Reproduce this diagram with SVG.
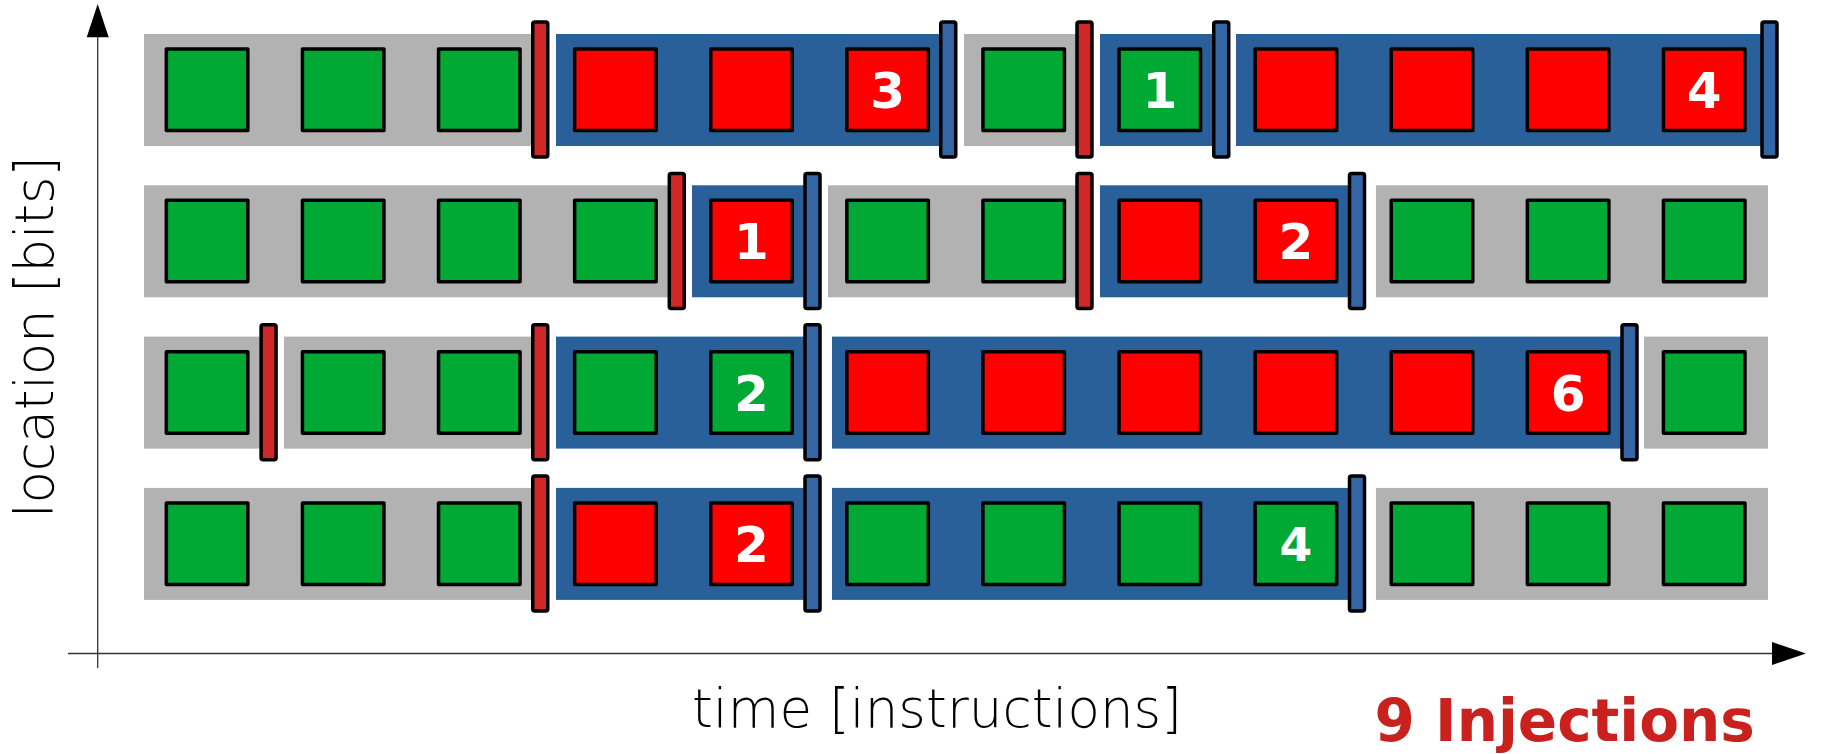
<svg xmlns="http://www.w3.org/2000/svg" width="1823" height="754" viewBox="0 0 1823 754">
<style>
.gray{fill:#b2b2b2}
.blue{fill:#2a6099}
.ok{fill:#00a933;stroke:#000;stroke-width:3.5;stroke-linejoin:round}
.bad{fill:#ff0000;stroke:#000;stroke-width:3.5;stroke-linejoin:round}
.rbar{fill:#d02828;stroke:#000;stroke-width:3.5}
.bbar{fill:#3465a4;stroke:#000;stroke-width:3.5}
.num{font-family:"DejaVu Sans",sans-serif;font-weight:bold;font-size:50px;fill:#fff;text-anchor:middle}
.axis{stroke:#333;stroke-width:1.3;fill:none}
.lbl{font-family:"DejaVu Sans",sans-serif;font-weight:200;font-size:53px;fill:#000}
</style>
<rect width="1823" height="754" fill="#fff"/>
<g id="connectors">
<line class="axis" x1="97.7" y1="36" x2="97.7" y2="668"/>
<polygon points="97.7,4 86.7,37.3 108.7,37.3" fill="#000"/>
<line class="axis" x1="68" y1="653.5" x2="1774" y2="653.5"/>
<polygon points="1806,653.5 1772,642 1772,665" fill="#000"/>
</g>
<g id="row1">
<g id="row1-bands">
<rect class="gray" x="144" y="34" width="396" height="112"/>
<rect class="blue" x="556" y="34" width="392" height="112"/>
<rect class="gray" x="964" y="34" width="120" height="112"/>
<rect class="blue" x="1100" y="34" width="121" height="112"/>
<rect class="blue" x="1236" y="34" width="533" height="112"/>
</g>
<g id="r1s0"><rect class="ok" x="166.35" y="49.05" width="81.5" height="81.5"/></g>
<g id="r1s1"><rect class="ok" x="302.45" y="49.05" width="81.5" height="81.5"/></g>
<g id="r1s2"><rect class="ok" x="438.55" y="49.05" width="81.5" height="81.5"/></g>
<g id="r1s3"><rect class="bad" x="574.65" y="49.05" width="81.5" height="81.5"/></g>
<g id="r1s4"><rect class="bad" x="710.75" y="49.05" width="81.5" height="81.5"/></g>
<g id="r1s5"><rect class="bad" x="846.85" y="49.05" width="81.5" height="81.5"/><text class="num" x="887.6" y="108">3</text></g>
<g id="r1s6"><rect class="ok" x="982.95" y="49.05" width="81.5" height="81.5"/></g>
<g id="r1s7"><rect class="ok" x="1119.05" y="49.05" width="81.5" height="81.5"/><text class="num" x="1159.8" y="108">1</text></g>
<g id="r1s8"><rect class="bad" x="1255.15" y="49.05" width="81.5" height="81.5"/></g>
<g id="r1s9"><rect class="bad" x="1391.25" y="49.05" width="81.5" height="81.5"/></g>
<g id="r1s10"><rect class="bad" x="1527.35" y="49.05" width="81.5" height="81.5"/></g>
<g id="r1s11"><rect class="bad" x="1663.45" y="49.05" width="81.5" height="81.5"/><text class="num" x="1704.2" y="108">4</text></g>
<g id="r1b0"><rect class="rbar" x="532.75" y="22" width="15" height="135" rx="2"/></g>
<g id="r1b1"><rect class="bbar" x="940.75" y="22" width="15" height="135" rx="2"/></g>
<g id="r1b2"><rect class="rbar" x="1077" y="22" width="15" height="135" rx="2"/></g>
<g id="r1b3"><rect class="bbar" x="1213.75" y="22" width="15" height="135" rx="2"/></g>
<g id="r1b4"><rect class="bbar" x="1762" y="22" width="15" height="135" rx="2"/></g>
</g>
<g id="row2">
<g id="row2-bands">
<rect class="gray" x="144" y="185.3" width="532" height="112"/>
<rect class="blue" x="692" y="185.3" width="120" height="112"/>
<rect class="gray" x="828" y="185.3" width="256" height="112"/>
<rect class="blue" x="1100" y="185.3" width="257" height="112"/>
<rect class="gray" x="1376" y="185.3" width="392" height="112"/>
</g>
<g id="r2s0"><rect class="ok" x="166.35" y="200.35" width="81.5" height="81.5"/></g>
<g id="r2s1"><rect class="ok" x="302.45" y="200.35" width="81.5" height="81.5"/></g>
<g id="r2s2"><rect class="ok" x="438.55" y="200.35" width="81.5" height="81.5"/></g>
<g id="r2s3"><rect class="ok" x="574.65" y="200.35" width="81.5" height="81.5"/></g>
<g id="r2s4"><rect class="bad" x="710.75" y="200.35" width="81.5" height="81.5"/><text class="num" x="751.5" y="259.3">1</text></g>
<g id="r2s5"><rect class="ok" x="846.85" y="200.35" width="81.5" height="81.5"/></g>
<g id="r2s6"><rect class="ok" x="982.95" y="200.35" width="81.5" height="81.5"/></g>
<g id="r2s7"><rect class="bad" x="1119.05" y="200.35" width="81.5" height="81.5"/></g>
<g id="r2s8"><rect class="bad" x="1255.15" y="200.35" width="81.5" height="81.5"/><text class="num" x="1295.9" y="259.3">2</text></g>
<g id="r2s9"><rect class="ok" x="1391.25" y="200.35" width="81.5" height="81.5"/></g>
<g id="r2s10"><rect class="ok" x="1527.35" y="200.35" width="81.5" height="81.5"/></g>
<g id="r2s11"><rect class="ok" x="1663.45" y="200.35" width="81.5" height="81.5"/></g>
<g id="r2b0"><rect class="rbar" x="669.3" y="173.5" width="15" height="135" rx="2"/></g>
<g id="r2b1"><rect class="bbar" x="805" y="173.5" width="15" height="135" rx="2"/></g>
<g id="r2b2"><rect class="rbar" x="1077" y="173.5" width="15" height="135" rx="2"/></g>
<g id="r2b3"><rect class="bbar" x="1349.5" y="173.5" width="15" height="135" rx="2"/></g>
</g>
<g id="row3">
<g id="row3-bands">
<rect class="gray" x="144" y="336.6" width="124" height="112"/>
<rect class="gray" x="284" y="336.6" width="256" height="112"/>
<rect class="blue" x="556" y="336.6" width="256" height="112"/>
<rect class="blue" x="832" y="336.6" width="797" height="112"/>
<rect class="gray" x="1644" y="336.6" width="124" height="112"/>
</g>
<g id="r3s0"><rect class="ok" x="166.35" y="351.65" width="81.5" height="81.5"/></g>
<g id="r3s1"><rect class="ok" x="302.45" y="351.65" width="81.5" height="81.5"/></g>
<g id="r3s2"><rect class="ok" x="438.55" y="351.65" width="81.5" height="81.5"/></g>
<g id="r3s3"><rect class="ok" x="574.65" y="351.65" width="81.5" height="81.5"/></g>
<g id="r3s4"><rect class="ok" x="710.75" y="351.65" width="81.5" height="81.5"/><text class="num" x="751.5" y="410.6">2</text></g>
<g id="r3s5"><rect class="bad" x="846.85" y="351.65" width="81.5" height="81.5"/></g>
<g id="r3s6"><rect class="bad" x="982.95" y="351.65" width="81.5" height="81.5"/></g>
<g id="r3s7"><rect class="bad" x="1119.05" y="351.65" width="81.5" height="81.5"/></g>
<g id="r3s8"><rect class="bad" x="1255.15" y="351.65" width="81.5" height="81.5"/></g>
<g id="r3s9"><rect class="bad" x="1391.25" y="351.65" width="81.5" height="81.5"/></g>
<g id="r3s10"><rect class="bad" x="1527.35" y="351.65" width="81.5" height="81.5"/><text class="num" x="1568.1" y="410.6">6</text></g>
<g id="r3s11"><rect class="ok" x="1663.45" y="351.65" width="81.5" height="81.5"/></g>
<g id="r3b0"><rect class="rbar" x="261.1" y="324.8" width="15" height="135" rx="2"/></g>
<g id="r3b1"><rect class="rbar" x="532.75" y="324.8" width="15" height="135" rx="2"/></g>
<g id="r3b2"><rect class="bbar" x="805" y="324.8" width="15" height="135" rx="2"/></g>
<g id="r3b3"><rect class="bbar" x="1622" y="324.8" width="15" height="135" rx="2"/></g>
</g>
<g id="row4">
<g id="row4-bands">
<rect class="gray" x="144" y="487.9" width="396" height="112"/>
<rect class="blue" x="556" y="487.9" width="256" height="112"/>
<rect class="blue" x="832" y="487.9" width="525" height="112"/>
<rect class="gray" x="1376" y="487.9" width="392" height="112"/>
</g>
<g id="r4s0"><rect class="ok" x="166.35" y="502.95" width="81.5" height="81.5"/></g>
<g id="r4s1"><rect class="ok" x="302.45" y="502.95" width="81.5" height="81.5"/></g>
<g id="r4s2"><rect class="ok" x="438.55" y="502.95" width="81.5" height="81.5"/></g>
<g id="r4s3"><rect class="bad" x="574.65" y="502.95" width="81.5" height="81.5"/></g>
<g id="r4s4"><rect class="bad" x="710.75" y="502.95" width="81.5" height="81.5"/><text class="num" x="751.5" y="561.9">2</text></g>
<g id="r4s5"><rect class="ok" x="846.85" y="502.95" width="81.5" height="81.5"/></g>
<g id="r4s6"><rect class="ok" x="982.95" y="502.95" width="81.5" height="81.5"/></g>
<g id="r4s7"><rect class="ok" x="1119.05" y="502.95" width="81.5" height="81.5"/></g>
<g id="r4s8"><rect class="ok" x="1255.15" y="502.95" width="81.5" height="81.5"/><text class="num" x="1295.9" y="560.5" style="font-size:47px">4</text></g>
<g id="r4s9"><rect class="ok" x="1391.25" y="502.95" width="81.5" height="81.5"/></g>
<g id="r4s10"><rect class="ok" x="1527.35" y="502.95" width="81.5" height="81.5"/></g>
<g id="r4s11"><rect class="ok" x="1663.45" y="502.95" width="81.5" height="81.5"/></g>
<g id="r4b0"><rect class="rbar" x="532.75" y="476.1" width="15" height="135" rx="2"/></g>
<g id="r4b1"><rect class="bbar" x="805" y="476.1" width="15" height="135" rx="2"/></g>
<g id="r4b2"><rect class="bbar" x="1349.5" y="476.1" width="15" height="135" rx="2"/></g>
</g>
<g id="labels">
<text class="lbl" x="692" y="727" textLength="490">time [instructions]</text>
<text class="lbl" transform="translate(52.5,337) rotate(-90)" text-anchor="middle" textLength="362">location [bits]</text>
<text x="1374.5" y="740.5" style="font-family:'DejaVu Sans',sans-serif;font-weight:bold;font-size:58px;fill:#c9211e">9 Injections</text>
</g>
</svg>
